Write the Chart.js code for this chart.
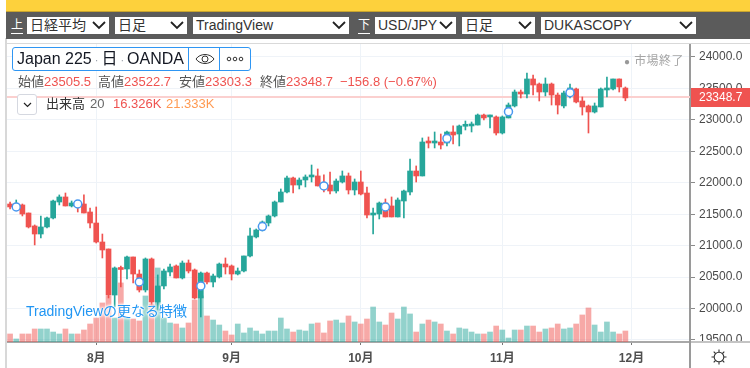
<!DOCTYPE html>
<html lang="ja">
<head>
<meta charset="utf-8">
<title>Japan 225</title>
<script src="https://cdn.jsdelivr.net/npm/chart.js@4"></script>
<style>
  html, body { margin: 0; padding: 0; background: #fff; }
  body { width: 750px; height: 368px; overflow: hidden; position: relative;
         font-family: "Liberation Sans", "Noto Sans CJK JP", sans-serif; color: #333; }
  .abs { position: absolute; white-space: nowrap; }
  #edge { left: 5px; top: 38px; width: 2px; height: 330px; background: #d8d8d8; }
  #topbar { left: 6px; top: 0; width: 744px; height: 11px; background: #fdd13c; overflow: hidden;
            border-bottom: 1px solid #c9a52e; }
  #topbar span { position: absolute; left: 12px; top: -21px; font-size: 16px; font-weight: bold; color: #3a3a3a; }
  #toolbar { left: 6px; top: 12px; width: 744px; height: 27px; background: #5b5b5b; }
  #rule { left: 7px; top: 43px; width: 743px; height: 1px; background: #d9d9d9; }
  .sel { top: 17px; height: 17px; background: #fff; font-size: 14px; line-height: 17px; padding-left: 3px; box-sizing: border-box; color: #333; }
  .sel svg { position: absolute; right: 3px; top: 4px; }
  .side { top: 18px; color: #fff; font-size: 12px; line-height: 15px; border-bottom: 1px solid #fff; }
  #legendBox { left: 12px; top: 47px; width: 239px; height: 24px; box-sizing: border-box; border: 1px solid #2f96f3;
               border-radius: 3px; background: #fff; font-size: 16px; line-height: 22px; color: #131722; }
  #legendBox i { font-style: normal; color: #9aa0aa; font-size: 11px; padding: 0 3px; }
  #legendBox .div { position: absolute; top: 0; width: 1px; height: 22px; background: #2f96f3; }
  .ohlc { top: 74px; font-size: 13px; line-height: 16px; color: #555; }
  .ohlc b, .vol b { font-weight: normal; color: #ef5350; }
  #volBtn { left: 17px; top: 94px; width: 20px; height: 21px; box-sizing: border-box; border: 1px solid #d5d8e0; border-radius: 3px; background: #fff; }
  .vol { top: 96px; font-size: 13px; line-height: 16px; color: #333; }
  #closed { left: 624px; top: 53px; font-size: 12px; line-height: 16px; color: #a5a5a5; letter-spacing: .4px; }
  #promo { left: 26px; top: 303px; font-size: 14px; line-height: 17px; color: #2196f3;
           text-shadow: 0 0 2px #fff, 0 0 2px #fff, 0 0 3px #fff, 0 0 3px #fff, 0 0 4px #fff; }
  #chartBox { left: 7px; top: 44px; width: 743px; height: 324px; }
  #axisV { left: 689px; top: 342px; width: 2px; height: 26px; background: #9a9a9a; }
  #axisH { left: 691px; top: 341px; width: 59px; height: 2px; background: #c4c4c4; }
  #gear { left: 711px; top: 349px; }
</style>
</head>
<body>
<div class="abs" id="edge"></div>
<div class="abs" id="topbar"><span>日経平均とドル円の相関性チャート比較検証</span></div>
<div class="abs" id="toolbar"></div>
<div class="abs side" style="left:11px">上</div>
<div class="abs sel" style="left:27px;width:82px">日経平均<svg width="14" height="9"><polyline points="1,1 7,7 13,1" fill="none" stroke="#222" stroke-width="1.8"/></svg></div>
<div class="abs sel" style="left:115px;width:72px">日足<svg width="14" height="9"><polyline points="1,1 7,7 13,1" fill="none" stroke="#222" stroke-width="1.8"/></svg></div>
<div class="abs sel" style="left:193px;width:156px">TradingView<svg width="14" height="9"><polyline points="1,1 7,7 13,1" fill="none" stroke="#222" stroke-width="1.8"/></svg></div>
<div class="abs side" style="left:358px">下</div>
<div class="abs sel" style="left:375px;width:81px">USD/JPY<svg width="14" height="9"><polyline points="1,1 7,7 13,1" fill="none" stroke="#222" stroke-width="1.8"/></svg></div>
<div class="abs sel" style="left:462px;width:73px">日足<svg width="14" height="9"><polyline points="1,1 7,7 13,1" fill="none" stroke="#222" stroke-width="1.8"/></svg></div>
<div class="abs sel" style="left:541px;width:155px">DUKASCOPY<svg width="14" height="9"><polyline points="1,1 7,7 13,1" fill="none" stroke="#222" stroke-width="1.8"/></svg></div>
<div class="abs" id="rule"></div>

<div class="abs" id="chartBox"><canvas id="candleChart" width="743" height="324"></canvas></div>
<div class="abs" id="axisV"></div>
<div class="abs" id="axisH"></div>
<svg class="abs" id="gear" width="16" height="16" viewBox="0 0 16 16">
  <circle cx="8" cy="8" r="4.8" fill="none" stroke="#333" stroke-width="1.1"/>
  <path d="M8 0.5V3M8 13V15.5M0.5 8H3M13 8H15.5M2.7 2.7L4.5 4.5M11.5 11.5L13.3 13.3M13.3 2.7L11.5 4.5M4.5 11.5L2.7 13.3" stroke="#333" stroke-width="1.1"/>
</svg>

<div class="abs" id="legendBox">
  <span style="position:absolute;left:4px">Japan 225<i>·</i>日<i>·</i>OANDA</span>
  <span class="div" style="left:175px"></span>
  <svg style="position:absolute;left:182px;top:5px" width="20" height="12"><path d="M1 6C5 0 15 0 19 6C15 12 5 12 1 6Z" fill="none" stroke="#333" stroke-width="1"/><circle cx="10" cy="6" r="3" fill="none" stroke="#333"/></svg>
  <span class="div" style="left:206px"></span>
  <svg style="position:absolute;left:213px;top:8px" width="18" height="6"><circle cx="3" cy="3" r="1.8" fill="none" stroke="#333"/><circle cx="9" cy="3" r="1.8" fill="none" stroke="#333"/><circle cx="15" cy="3" r="1.8" fill="none" stroke="#333"/></svg>
</div>
<div class="abs ohlc" style="left:18px">始値<b>23505.5</b></div>
<div class="abs ohlc" style="left:98px">高値<b>23522.7</b></div>
<div class="abs ohlc" style="left:179px">安値<b>23303.3</b></div>
<div class="abs ohlc" style="left:260px">終値<b>23348.7</b></div>
<div class="abs ohlc" style="left:340px"><b>−156.8 (−0.67%)</b></div>
<div class="abs" id="volBtn"><svg style="position:absolute;left:5px;top:7px" width="9" height="6"><polyline points="1,1 4.5,4.5 8,1" fill="none" stroke="#222" stroke-width="1.2"/></svg></div>
<div class="abs vol" style="left:46px">出来高</div>
<div class="abs vol" style="left:90px;color:#666">20</div>
<div class="abs vol" style="left:113px"><b>16.326K</b></div>
<div class="abs vol" style="left:166px;color:#ff9a52">21.333K</div>
<div class="abs" id="closed"><span style="color:#999;font-size:10px">●</span> 市場終了</div>
<div class="abs" id="promo">TradingViewの更なる特徴</div>

<script>
'use strict';

const days = [
  '7/12', '7/15', '7/16', '7/17', '7/18', '7/19', '7/22', '7/23', '7/24', '7/25', '7/26', '7/29', '7/30', '7/31',
  '8/1', '8/2', '8/5', '8/6', '8/7', '8/8', '8/9', '8/12', '8/13', '8/14', '8/15', '8/16', '8/19', '8/20', '8/21', '8/22', '8/23', '8/26', '8/27', '8/28', '8/29', '8/30',
  '9/2', '9/3', '9/4', '9/5', '9/6', '9/9', '9/10', '9/11', '9/12', '9/13', '9/16', '9/17', '9/18', '9/19', '9/20', '9/23', '9/24', '9/25', '9/26', '9/27', '9/30',
  '10/1', '10/2', '10/3', '10/4', '10/7', '10/8', '10/9', '10/10', '10/11', '10/14', '10/15', '10/16', '10/17', '10/18', '10/21', '10/22', '10/23', '10/24', '10/25', '10/28', '10/29', '10/30', '10/31',
  '11/1', '11/4', '11/5', '11/6', '11/7', '11/8', '11/11', '11/12', '11/13', '11/14', '11/15', '11/18', '11/19', '11/20', '11/21', '11/22', '11/25', '11/26', '11/27', '11/28', '11/29',
  '12/2', '12/3', '12/4', '12/5', '12/6', '12/9', '12/10', '12/11', '12/12', '12/13',
];
const monthDays = ['8/1', '9/2', '10/1', '11/1', '12/2'];
const monthLabels = ['8月', '9月', '10月', '11月', '12月'];
const priceTicks = [19500, 20000, 20500, 21000, 21500, 22000, 22500, 23000, 23500, 24000];

const opens = [
  21662, 21615, 21647, 21519, 21313, 21185, 21297, 21440, 21694, 21774,
  21631, 21678, 21662, 21535, 21360, 21058, 20947, 20215, 20645, 20629,
  20820, 20549, 20295, 20788, 20104, 20359, 20581, 20677, 20486, 20724,
  20613, 20168, 20565, 20422, 20502, 20708, 20677, 20549, 20597, 20836,
  21138, 21249, 21360, 21472, 21694, 21853, 22076, 21964, 22044, 22092,
  22108, 21980, 21964, 21869, 22012, 22108, 21885, 22012, 21837, 21487,
  21503, 21678, 21631, 21456, 21710, 21853, 22187, 22108, 22648, 22632,
  22648, 22632, 22807, 22775, 22898, 22903, 22918, 23077, 23046, 23046,
  22791, 23030, 23221, 23443, 23411, 23650, 23570, 23443, 23570, 23395,
  23221, 23395, 23491, 23300, 23221, 23125, 23205, 23475, 23491, 23650,
  23505.5,
];
const closes = [
  21615, 21647, 21503, 21297, 21185, 21297, 21440, 21710, 21774, 21631,
  21678, 21631, 21519, 21360, 21058, 20931, 20215, 20645, 20621, 20820,
  20549, 20295, 20788, 20104, 20359, 20597, 20661, 20486, 20724, 20597,
  20168, 20565, 20422, 20518, 20708, 20661, 20549, 20597, 20836, 21154,
  21249, 21376, 21472, 21694, 21853, 22076, 21964, 22044, 22092, 22108,
  21949, 21949, 21869, 22028, 22108, 21885, 22012, 21821, 21487, 21503,
  21678, 21456, 21456, 21726, 21869, 22187, 22108, 22648, 22632, 22648,
  22600, 22807, 22759, 22903, 22907, 22918, 23077, 23030, 23062, 22791,
  23046, 23236, 23443, 23411, 23650, 23554, 23443, 23570, 23395, 23236,
  23427, 23507, 23284, 23205, 23125, 23221, 23491, 23491, 23650, 23523,
  23348.7,
];
const highs = [
  21694, 21726, 21662, 21519, 21329, 21472, 21456, 21726, 21806, 21837,
  21710, 21710, 21806, 21599, 21615, 21185, 20947, 20661, 20677, 20836,
  20820, 20613, 20804, 20804, 20534, 20629, 20708, 20693, 20756, 20772,
  20629, 20581, 20581, 20549, 20724, 20804, 20693, 20645, 20836, 21281,
  21265, 21392, 21487, 21710, 21901, 22108, 22092, 22076, 22124, 22282,
  22219, 22124, 22171, 22060, 22187, 22155, 22060, 22187, 21933, 21599,
  21694, 21742, 21774, 21758, 21885, 22378, 22267, 22712, 22728, 22807,
  22775, 22823, 22903, 22918, 22982, 22966, 23093, 23093, 23077, 23062,
  23062, 23268, 23475, 23475, 23745, 23713, 23586, 23666, 23586, 23427,
  23459, 23570, 23507, 23364, 23236, 23268, 23507, 23682, 23650, 23650,
  23522.7,
];
const lows = [
  21583, 21583, 21472, 21281, 21011, 21122, 21281, 21424, 21647, 21631,
  21615, 21535, 21519, 21281, 21042, 20804, 20168, 20025, 20343, 20470,
  20406, 20263, 20263, 20041, 19977, 20311, 20518, 20486, 20470, 20565,
  20152, 19866, 20390, 20343, 20486, 20549, 20454, 20534, 20581, 20820,
  21122, 21233, 21313, 21456, 21694, 21837, 21837, 21901, 21933, 22012,
  21949, 21853, 21821, 21837, 21996, 21821, 21806, 21806, 21440, 21185,
  21424, 21456, 21456, 21456, 21440, 21806, 22012, 22108, 22553, 22553,
  22537, 22585, 22616, 22585, 22839, 22807, 22918, 22998, 22871, 22759,
  22775, 23030, 23205, 23348, 23348, 23395, 23300, 23380, 23236, 23093,
  23189, 23348, 23268, 23077, 22791, 23109, 23205, 23364, 23475, 23443,
  23303.3,
];
// 出来高 (K)
const volumes = [
  11.9, 4.5, 11.9, 11.9, 19.3, 19.3, 19.3, 14.8, 11.9, 19.3,
  11.9, 11.9, 17.8, 26.7, 35.6, 57.9, 68.3, 35.6, 87.6, 35.6,
  34.1, 31.2, 68.3, 56.4, 109.8, 35.6, 28.2, 26.7, 20.8, 28.2,
  62.3, 68.3, 38.6, 32.6, 25.2, 16.3, 10.4, 26.7, 13.4, 20.8,
  16.3, 11.9, 16.3, 16.3, 35.6, 19.3, 14.8, 17.8, 16.3, 26.7,
  28.2, 13.4, 31.2, 32.6, 28.2, 38.6, 29.7, 26.7, 34.1, 51.9,
  29.7, 25.2, 43.0, 34.1, 51.9, 41.6, 14.8, 26.7, 32.6, 29.7,
  26.7, 16.3, 11.9, 20.8, 19.3, 14.8, 11.9, 11.9, 14.8, 23.7,
  17.8, 5.9, 17.8, 17.8, 23.7, 23.7, 14.8, 19.3, 20.8, 26.7,
  19.3, 20.8, 26.7, 40.1, 50.5, 25.2, 14.8, 29.7, 14.8, 11.9,
  16.326,
];
const markerDays = ['7/15', '7/29', '8/12', '8/26', '9/9', '9/23', '10/7', '10/21', '11/4', '11/18'];
const markerPrices = [21615, 21662, 20422, 20359, 21303, 21949, 21615, 22704, 23130, 23432];
const lastPrice = 23348.7;

const RED = '#ef5350';
const TEAL = '#26a69a';
const isUp = closes.map((c, i) => c >= opens[i]);

// 現在値ラインと右側のラベル
const lastPricePlugin = {
  id: 'lastPrice',
  beforeDatasetsDraw(chart) {
    const { ctx, chartArea, scales } = chart;
    const y = Math.round(scales.y.getPixelForValue(lastPrice)) - 1;
    ctx.save();
    ctx.fillStyle = '#fbd0cf';
    ctx.fillRect(chartArea.left, y - 1, chartArea.right - chartArea.left, 2);
    ctx.restore();
  },
  afterDraw(chart) {
    const { ctx, chartArea, scales, width } = chart;
    const y = Math.round(scales.y.getPixelForValue(lastPrice)) - 1;
    ctx.save();
    ctx.fillStyle = RED;
    ctx.fillRect(chartArea.right + 1, y - 9, width - chartArea.right, 19);
    ctx.fillStyle = '#fff';
    ctx.font = '12px "Liberation Sans"';
    ctx.textBaseline = 'middle';
    ctx.fillText(lastPrice.toFixed(1), chartArea.right + 9, y + 1);
    ctx.restore();
  },
};

new Chart(document.getElementById('candleChart').getContext('2d'), {
  type: 'bar',
  data: {
    labels: days,
    datasets: [
      {
        label: '出来高',
        yAxisID: 'vol',
        data: volumes,
        backgroundColor: isUp.map(u => (u ? 'rgba(38,166,154,0.5)' : 'rgba(239,83,80,0.5)')),
        barThickness: 5,
        grouped: false,
        order: 3,
      },
      {
        label: 'wick',
        data: highs.map((h, i) => [lows[i], h]),
        backgroundColor: isUp.map(u => (u ? TEAL : RED)),
        barThickness: 1,
        grouped: false,
        order: 2,
      },
      {
        label: 'body',
        data: opens.map((o, i) => [o, closes[i]]),
        backgroundColor: isUp.map(u => (u ? TEAL : RED)),
        barThickness: 5,
        minBarLength: 2,
        grouped: false,
        order: 1,
      },
      {
        label: 'events',
        type: 'line',
        data: markerDays.map((d, i) => ({ x: d, y: markerPrices[i] })),
        showLine: false,
        pointRadius: 4,
        pointBorderWidth: 1.5,
        pointBorderColor: '#4a98f0',
        pointBackgroundColor: '#fff',
        order: 0,
      },
    ],
  },
  options: {
    responsive: false,
    animation: false,
    layout: { padding: 0, autoPadding: false },
    plugins: { legend: { display: false }, tooltip: { enabled: false } },
    scales: {
      x: {
        offset: true,
        grid: {
          offset: false,
          color: c => (monthDays.includes(days[c.index]) ? '#eef3f8' : 'transparent'),
          tickColor: c => (monthDays.includes(days[c.index]) ? '#777' : 'transparent'),
          tickLength: 3,
        },
        border: { color: '#a8a8a8', width: 2 },
        ticks: {
          autoSkip: false,
          maxRotation: 0,
          padding: 6,
          color: '#4f4f4f',
          font: { family: '"Liberation Sans", "Noto Sans CJK JP"', size: 12, weight: 'bold' },
          callback: value => {
            const k = monthDays.indexOf(days[value]);
            return k < 0 ? '' : monthLabels[k];
          },
        },
        afterFit: scale => { scale.height = 26; scale.paddingLeft = 0; scale.paddingRight = 0; },
      },
      y: {
        position: 'right',
        min: 19468,
        max: 24206,
        afterBuildTicks: scale => { scale.ticks = priceTicks.map(v => ({ value: v })); },
        grid: { color: '#eff3f8', tickColor: '#8a8a8a', tickLength: 5 },
        border: { color: '#9a9a9a', width: 2 },
        ticks: {
          padding: 4,
          color: '#4a4a4a',
          font: { family: '"Liberation Sans"', size: 12 },
          callback: v => Number(v).toFixed(1),
        },
        afterFit: scale => { scale.width = 60; scale.paddingTop = 0; scale.paddingBottom = 0; },
      },
      vol: { display: false, min: 0, max: 442 },
    },
  },
  plugins: [lastPricePlugin],
});
</script>
</body>
</html>
